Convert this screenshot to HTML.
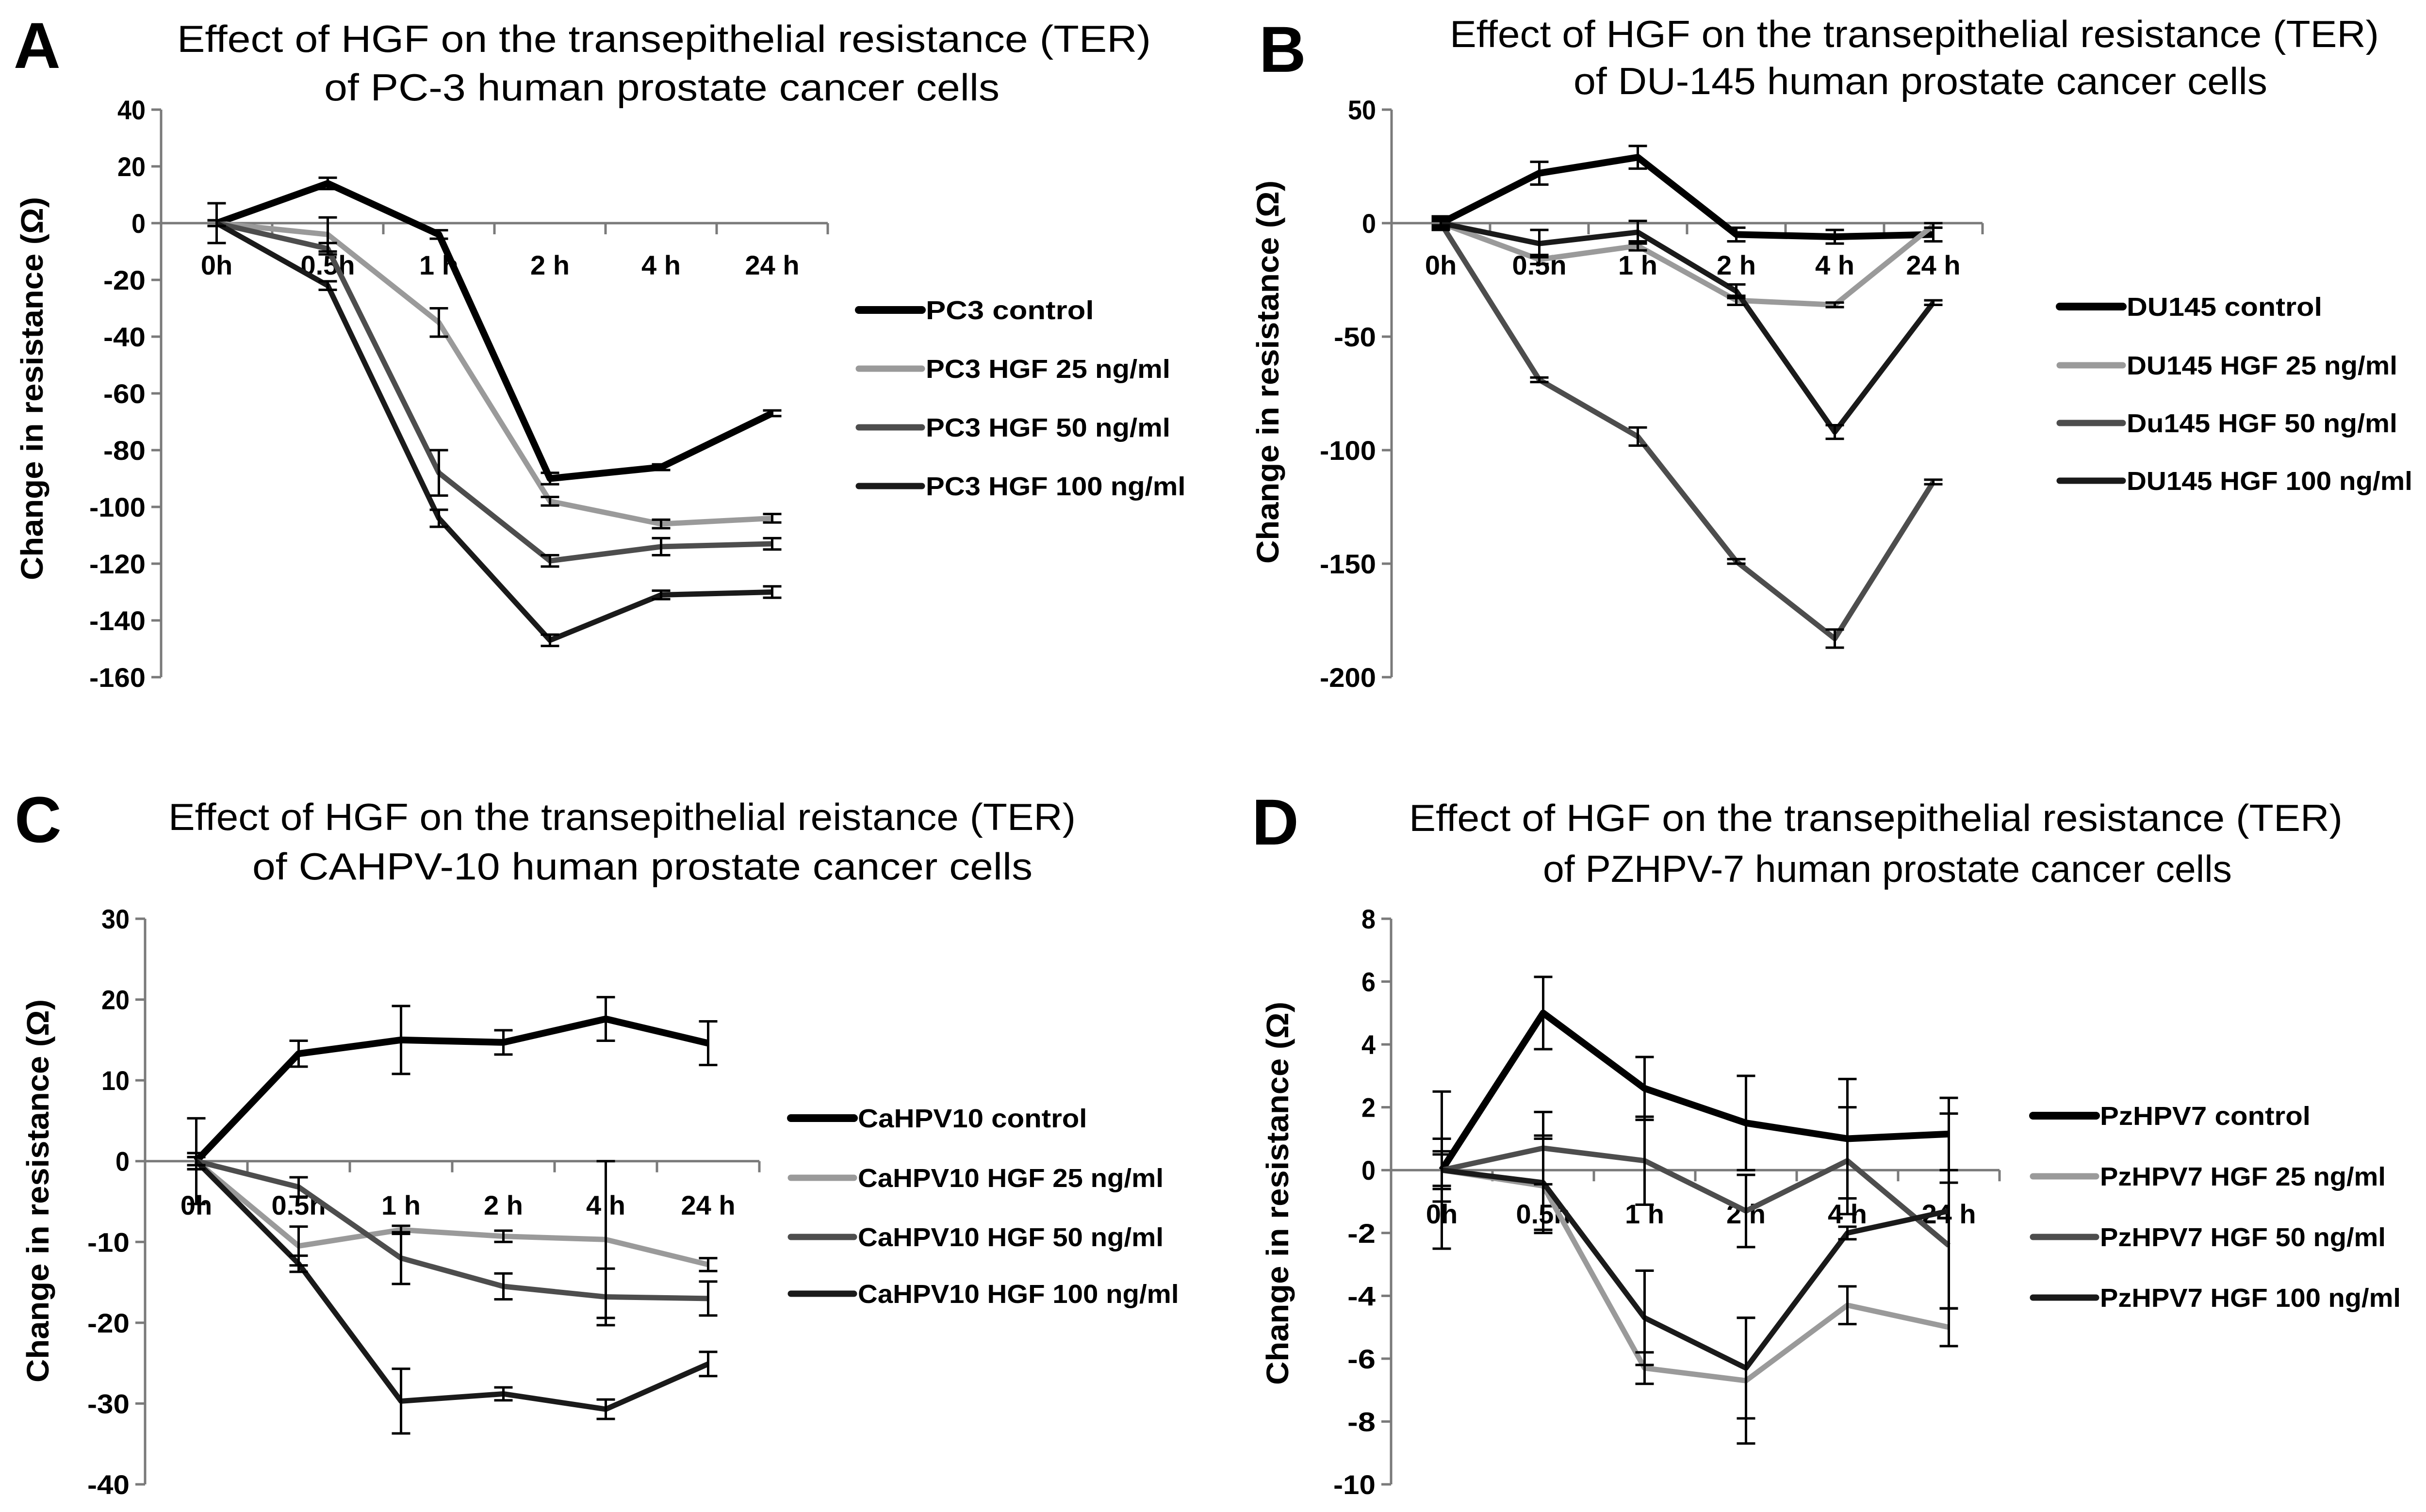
<!DOCTYPE html>
<html><head><meta charset="utf-8">
<style>
html,body{margin:0;padding:0;background:#fff;overflow:hidden;}
svg{display:block;}
.title{font-family:"Liberation Sans",Arial,sans-serif;font-size:78px;fill:#000;}
.lbl{font-family:"Liberation Sans",Arial,sans-serif;font-weight:bold;font-size:56px;fill:#000;}
.leg{font-family:"Liberation Sans",Arial,sans-serif;font-weight:bold;font-size:54px;fill:#000;}
.yt{font-family:"Liberation Sans",Arial,sans-serif;font-weight:bold;font-size:64px;fill:#000;}
.pl{font-family:"Liberation Sans",Arial,sans-serif;font-weight:bold;font-size:134px;fill:#000;}
</style></head>
<body>
<svg id="fig" width="5160" height="3117" viewBox="0 0 5160 3117" xmlns="http://www.w3.org/2000/svg"></svg>
<script>
const categories = ["0h","0.5h","1 h","2 h","4 h","24 h"];

// Panel A - PC-3
const aTicks = [40,20,0,-20,-40,-60,-80,-100,-120,-140,-160];
const aNames = ["PC3 control","PC3 HGF 25 ng/ml","PC3 HGF 50 ng/ml","PC3 HGF 100 ng/ml"];
const aControl = [0,14,-4,-90,-86,-67];
const a25 = [0,-4,-35,-98,-106,-104];
const a50 = [0,-9,-88,-119,-114,-113];
const a100 = [0,-22,-104,-147,-131,-130];
const aErrControl = [7,2,1.5,2,1,1];
const aErr25 = [1,6,5,1.5,1.5,1.5];
const aErr50 = [1,2,8,2,3,2];
const aErr100 = [1,1.5,3,2,1.5,2];

// Panel B - DU-145
const bTicks = [50,0,-50,-100,-150,-200];
const bNames = ["DU145 control","DU145 HGF 25 ng/ml","Du145 HGF 50 ng/ml","DU145 HGF 100 ng/ml"];
const bControl = [0,22,29,-5,-6,-5];
const b25 = [0,-16,-10,-34,-36,-1];
const b50 = [0,-69,-94,-149,-183,-114];
const b100 = [0,-9,-4,-30,-92,-35];
const bErrControl = [3,5,5,3,3,3];
const bErr25 = [2,2,2,2,1,1];
const bErr50 = [1,1,4,1,4,1];
const bErr100 = [2,6,5,3,3,1];

// Panel C - CAHPV-10
const cTicks = [30,20,10,0,-10,-20,-30,-40];
const cNames = ["CaHPV10 control","CaHPV10 HGF 25 ng/ml","CaHPV10 HGF 50 ng/ml","CaHPV10 HGF 100 ng/ml"];
const cControl = [0,13.3,15,14.7,17.6,14.6];
const c25 = [0,-10.5,-8.5,-9.3,-9.7,-12.8];
const c50 = [0,-3.2,-12,-15.5,-16.8,-17];
const c100 = [0,-12.7,-29.7,-28.8,-30.7,-25.1];
const cErrControl = [5.3,1.6,4.2,1.5,2.7,2.7];
const cErr25 = [1,2.4,0.5,0.7,9.7,0.8];
const cErr50 = [1,1.2,3.2,1.6,3.5,2.1];
const cErr100 = [0.5,1,4,0.8,1.2,1.5];

// Panel D - PZHPV-7
const dTicks = [8,6,4,2,0,-2,-4,-6,-8,-10];
const dNames = ["PzHPV7 control","PzHPV7 HGF 25 ng/ml","PzHPV7 HGF 50 ng/ml","PzHPV7 HGF 100 ng/ml"];
const dControl = [0,5,2.6,1.5,1.0,1.15];
const d25 = [0,-0.5,-6.3,-6.7,-4.3,-5];
const d50 = [0,0.7,0.3,-1.3,0.3,-2.4];
const d100 = [0,-0.4,-4.7,-6.3,-2,-1.3];
const dErrControl = [2.5,1.15,1.0,1.5,1.9,1.15];
const dErr25 = [1,1.5,0.5,2,0.6,0.6];
const dErr50 = [0.6,1.15,1.4,1.15,1.7,2];
const dErr100 = [0.5,1.5,1.5,1.6,0.2,3.1];

const NS = "http://www.w3.org/2000/svg";
const svg = document.getElementById("fig");
function mk(tag, attrs, parent){
  const e = document.createElementNS(NS, tag);
  for (const k in attrs) e.setAttribute(k, attrs[k]);
  (parent||svg).appendChild(e);
  return e;
}
const colors = ["#000000","#9a9a9a","#4d4d4d","#1a1a1a"];
const widths = [14,11,11,11];

function panel(cfg){
  const g = mk("g",{});
  
  
  const L = mk("text",{x:cfg.letterX,y:cfg.letterY,class:"pl"},g);
  L.textContent = cfg.id.toUpperCase();
  
  
  cfg.title.forEach((t,i)=>{
    const tt = mk("text",{x:cfg.titleX[i],y:cfg.titleY[i],class:"title",textLength:cfg.titleW[i],lengthAdjust:"spacingAndGlyphs"},g);
    tt.textContent = t;
    
    
  });
  const ticks = cfg.ticks;
  const vmax = ticks[0], vmin = ticks[ticks.length-1];
  const yS = v => cfg.yTop + (vmax - v) / (vmax - vmin) * (cfg.yBot - cfg.yTop);
  const xS = i => cfg.axisX + cfg.step*(i+0.5);
  const axisEnd = cfg.axisX + cfg.step*categories.length;
  const y0 = yS(0);
  const ya = mk("line",{x1:cfg.axisX,y1:yS(vmax),x2:cfg.axisX,y2:yS(vmin),stroke:"#7a7a7a","stroke-width":5},g);
  
  
  ticks.forEach(v=>{
    mk("line",{x1:cfg.axisX-20,y1:yS(v),x2:cfg.axisX,y2:yS(v),stroke:"#7a7a7a","stroke-width":5},g);
    const s = String(v);
    const t = mk("text",{x:cfg.axisX-32,y:yS(v)+20,class:"lbl","text-anchor":"end",textLength:s.length*29,lengthAdjust:"spacingAndGlyphs"},g);
    t.textContent = s;
    
    
  });
  const xa = mk("line",{x1:cfg.axisX,y1:y0,x2:axisEnd,y2:y0,stroke:"#7a7a7a","stroke-width":5},g);
  
  
  for (let i=1;i<=categories.length;i++){
    const x = cfg.axisX + cfg.step*i;
    mk("line",{x1:x,y1:y0,x2:x,y2:y0+23,stroke:"#7a7a7a","stroke-width":5},g);
  }
  const ytx = cfg.yTitleX, yty = cfg.yTitleY;
  const yt = mk("text",{x:ytx,y:yty,class:"yt","text-anchor":"middle",transform:`rotate(-90 ${ytx} ${yty})`,textLength:790,lengthAdjust:"spacingAndGlyphs"},g);
  yt.textContent = "Change in resistance (\u03A9)";
  
  
  categories.forEach((c,i)=>{
    const t = mk("text",{x:xS(i),y:cfg.catY,class:"lbl","text-anchor":"middle"},g);
    t.textContent = c;
    
    
  });
  cfg.series.forEach((s,si)=>{
    const pts = s.map((v,i)=>xS(i)+","+yS(v)).join(" ");
    const pl = mk("polyline",{points:pts,fill:"none",stroke:colors[si],"stroke-width":widths[si],"stroke-linejoin":"round"},g);
    
    
  });
  cfg.series.forEach((s,si)=>{
    s.forEach((v,i)=>{
      const e = cfg.errs[si][i];
      const x = xS(i);
      const eb = mk("path",{d:`M${x},${yS(v+e)}V${yS(v-e)}M${x-19},${yS(v+e)}H${x+19}M${x-19},${yS(v-e)}H${x+19}`,stroke:"#000","stroke-width":5,fill:"none"},g);
      
      
    });
  });
  cfg.names.forEach((n,si)=>{
    const y = cfg.legY[si];
    const ll = mk("line",{x1:cfg.legX,y1:y,x2:cfg.legX+130,y2:y,stroke:colors[si],"stroke-width":widths[si]+2,"stroke-linecap":"round"},g);
    
    
    const t = mk("text",{x:cfg.legX+138,y:y+19,class:"leg",textLength:n.length*cfg.legC,lengthAdjust:"spacingAndGlyphs"},g);
    t.textContent = n;
    
    
  });
}

panel({id:"a",letterX:28,letterY:140,title:["Effect of HGF on the transepithelial resistance (TER)","of PC-3 human prostate cancer cells"],
  titleX:[365,668],titleY:[107,207],titleW:[2007,1392],
  ticks:aTicks,yTop:226,yBot:1396,axisX:332,step:229,catY:566,yTitleX:88,yTitleY:801,
  series:[aControl,a25,a50,a100],errs:[aErrControl,aErr25,aErr50,aErr100],names:aNames,legX:1770,legC:31.5,legY:[639,760,881,1002]});
panel({id:"b",letterX:2595,letterY:148,title:["Effect of HGF on the transepithelial resistance (TER)","of DU-145 human prostate cancer cells"],
  titleX:[2988,3243],titleY:[97,194],titleW:[1915,1430],
  ticks:bTicks,yTop:226,yBot:1396,axisX:2868,step:203,catY:566,yTitleX:2635,yTitleY:767,
  series:[bControl,b25,b50,b100],errs:[bErrControl,bErr25,bErr50,bErr100],names:bNames,legX:4245,legC:31,legY:[632,753,872,991]});
panel({id:"c",letterX:30,letterY:1736,title:["Effect of HGF on the transepithelial reistance (TER)","of CAHPV-10 human prostate cancer cells"],
  titleX:[347,520],titleY:[1711,1813],titleW:[1870,1608],
  ticks:cTicks,yTop:1894,yBot:3060,axisX:299,step:211,catY:2504,yTitleX:100,yTitleY:2455,
  series:[cControl,c25,c50,c100],errs:[cErrControl,cErr25,cErr50,cErr100],names:cNames,legX:1630,legC:31.5,legY:[2305,2428,2550,2667]});
panel({id:"d",letterX:2580,letterY:1741,title:["Effect of HGF on the transepithelial resistance (TER)","of PZHPV-7 human prostate cancer cells"],
  titleX:[2904,3180],titleY:[1713,1818],titleW:[1924,1420],
  ticks:dTicks,yTop:1894,yBot:3060,axisX:2867,step:209,catY:2522,yTitleX:2655,yTitleY:2460,
  series:[dControl,d25,d50,d100],errs:[dErrControl,dErr25,dErr50,dErr100],names:dNames,legX:4190,legC:31,legY:[2300,2425,2550,2675]});
</script>
</body></html>
